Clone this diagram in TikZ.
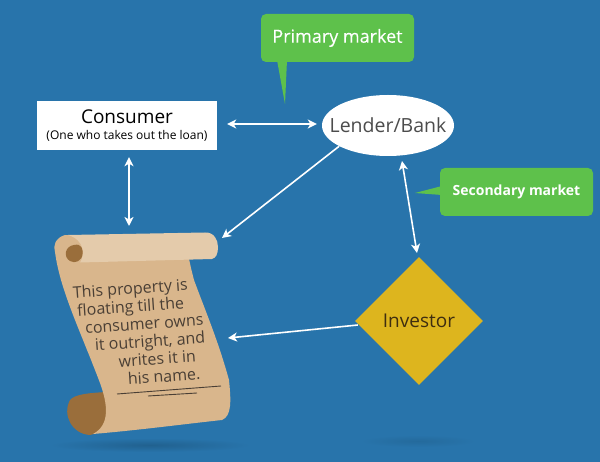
\documentclass[tikz,border=0pt]{standalone}
\usepackage{fontspec}
\setmainfont{Open Sans}
\newfontfamily\medfont[FakeBold=0.2]{Open Sans}
\usetikzlibrary{shapes.geometric,arrows.meta}
\definecolor{bgblue}{HTML}{2874AB}
\definecolor{shadowblue}{HTML}{21618F}
\definecolor{shadowfaint}{HTML}{246A9C}
\definecolor{mgreen}{HTML}{5EC14B}
\definecolor{dgold}{HTML}{DDB51E}
\definecolor{parch}{HTML}{D9B68C}
\definecolor{rollc}{HTML}{E4CBAB}
\definecolor{rollb}{HTML}{9A6E3B}
\definecolor{inkc}{HTML}{4A3F35}
\definecolor{invink}{HTML}{3F2E10}
\newcommand{\fsz}[1]{\fontsize{#1}{#1}\selectfont}
\tikzset{
  link/.style={draw=white,line width=1.6pt,{Stealth[length=9pt,width=9pt,inset=2.5pt]}-{Stealth[length=9pt,width=9pt,inset=2.5pt]}},
  linkone/.style={draw=white,line width=1.6pt,-{Stealth[length=9pt,width=9pt,inset=2.5pt]}},
  bubble/.style={fill=mgreen,rounded corners=5pt,text=white,inner sep=0pt,minimum height=48pt,minimum width=153pt},
  scrolltext/.style={text=inkc,rotate=4,inner sep=0pt,align=center,font=\fontsize{16}{18}\selectfont},
  dropshadow/.style={shape=ellipse,inner sep=0pt,outer color=bgblue},
}
\begin{document}
\begin{tikzpicture}[x=1pt,y=-1pt]
\useasboundingbox (0,0) rectangle (600,462);
\fill[bgblue] (0,0) rectangle (600,462);
% shadows
\node[dropshadow,inner color=shadowblue,minimum width=200pt,minimum height=14pt] (shadowa) at (150,445) {};
\node[dropshadow,inner color=shadowfaint,minimum width=115pt,minimum height=12pt] (shadowb) at (418,441) {};
% scroll: dark lower roll, then sheet, then upper roll
\fill[rollb] (106,392) .. controls (90,393) and (75,394) .. (70,400)
  .. controls (62,415) and (72,434) .. (90,435)
  .. controls (100,434) and (110,420) .. (107,405) -- cycle;
\fill[parch] (65,235) .. controls (55,238) and (53,246) .. (55,252)
  .. controls (60,290) and (80,330) .. (100,383)
  .. controls (108,405) and (110,425) .. (93,434)
  .. controls (140,430) and (185,424) .. (222,420)
  .. controls (232,416) and (231,400) .. (229,380)
  .. controls (218,340) and (205,310) .. (194,280)
  .. controls (190,265) and (187,250) .. (186,240) -- cycle;
\fill[rollc] (68,235) -- (205,232.5) .. controls (214,232) and (218,240) .. (218,247)
  .. controls (218,254) and (216,258) .. (212,259) -- (80,262.5)
  .. controls (85,255) and (85,240) .. (68,235) -- cycle;
\fill[rollb] (74,245) .. controls (82,243) and (83,250) .. (82.5,254)
  .. controls (82,261) and (75,264) .. (70,261) .. controls (63,257) and (65,246) .. (74,245) -- cycle;
\node[scrolltext] (scrolltxt) at (147.4,332.3) {This property is\rule{28pt}{0pt}\\
  floating till the\rule{30pt}{0pt}\\
  consumer owns\rule{5pt}{0pt}\\
  \rule{4pt}{0pt}it outright, and\\
  \rule{16pt}{0pt}writes it in\\
  \rule{27pt}{0pt}his name.};
\draw[inkc,line width=0.9pt] (117,394) -- (221,386);
\draw[inkc,line width=0.9pt] (148,396) -- (197,393);
% named nodes
\node[fill=white,minimum width=180pt,minimum height=49pt,inner sep=0pt,align=center] (consumer) at (127,125.5)
  {{\fsz{19}Consumer}\\[4pt]{\fsz{12}(One who takes out the loan)}};
\node[ellipse,fill=white,minimum width=132pt,minimum height=61pt,inner sep=0pt,label={[text=black!70,font=\fsz{19.5}]center:Lender/Bank}] (lender) at (388,125.5) {};
\node[diamond,fill=dgold,minimum width=128pt,minimum height=128pt,inner sep=0pt,label={[text=invink,font=\fsz{19}]center:Investor}] (investor) at (419,321) {};
% bubbles
\fill[mgreen] (277,60) -- (285,104) -- (287,60) -- cycle;
\node[bubble,font=\medfont\fsz{18}] (primary) at (337.5,38) {Primary market};
\fill[mgreen] (442,186) -- (415,193) -- (442,195) -- cycle;
\node[bubble,font=\bfseries\fsz{14}] (secondary) at (516.5,192) {Secondary market};
% connector ends
\coordinate (sa) at (129,226);
\coordinate (sb) at (222,238);
\coordinate (sc) at (228,338);
\coordinate (lbot) at (402,161);
\coordinate (itop) at (417,253);
\draw[link] ([xshift=2pt,yshift=-7pt]consumer.south) -- (sa);
\draw[link,shorten <=10pt,shorten >=5pt] ([yshift=1.5pt]consumer.east) -- ([yshift=1.5pt]lender.west);
\draw[linkone] (lender.203) -- (sb);
\draw[link] (lbot) -- (itop);
\draw[linkone] ([shift={(3pt,-4pt)}]investor.west) -- (sc);
\end{tikzpicture}
\end{document}
